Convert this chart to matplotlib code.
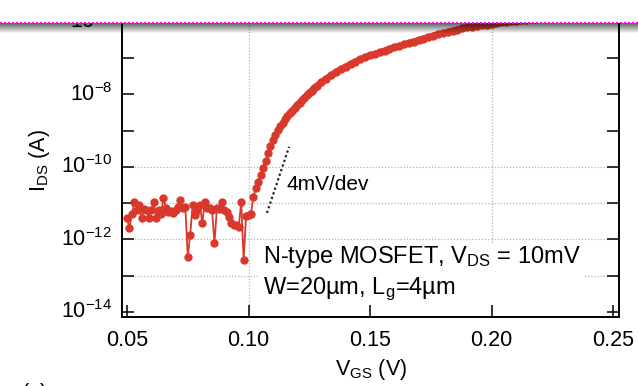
import numpy as np
import matplotlib.pyplot as plt
from matplotlib.ticker import FixedLocator, NullLocator, FuncFormatter

plt.rcParams['font.family'] = ['Liberation Sans', 'DejaVu Sans']
plt.rcParams['mathtext.fontset'] = 'custom'
plt.rcParams['mathtext.rm'] = 'Liberation Sans'
plt.rcParams['mathtext.it'] = 'Liberation Sans:italic'
plt.rcParams['mathtext.default'] = 'regular'

# gate sweep (mV) and log10 of drain current (A)
vgs_mv = [50, 51, 52, 53, 54, 55, 56, 57, 58, 59,
          60, 61, 62, 63, 64, 65, 66, 67, 68, 69,
          70, 71, 72, 73, 74, 75, 76, 77, 78, 79,
          80, 81, 82, 83, 84, 85, 86, 87, 88, 89,
          90, 91, 92, 93, 94, 95, 96, 97, 98, 99,
          100, 101, 102, 103, 104, 105, 106, 107, 108, 109,
          110, 111, 112, 113, 114, 115, 116, 117, 118, 119,
          120, 121, 122, 123, 124, 125, 126, 127, 128,
          130, 132, 134, 136, 138, 140, 142, 144, 146, 148,
          150, 152, 154, 156, 158, 160, 162, 164, 166, 168,
          170, 172, 174, 176, 178, 180, 182, 184, 186, 188,
          190, 192, 194, 196, 198, 200, 202, 204, 206, 208,
          210, 212, 214, 216, 218, 220, 222, 224, 226, 228, 230]
log_ids = [-11.42, -11.69, -11.30, -10.97, -11.19, -11.05, -11.41, -11.15, -11.19, -11.41,
           -11.19, -10.96, -11.41, -11.19, -11.30, -10.86, -11.13, -11.25, -11.22, -11.27,
           -11.19, -11.10, -10.91, -11.13, -11.10, -12.48, -11.88, -11.05, -11.33, -11.20,
           -11.05, -11.56, -10.96, -11.13, -11.13, -11.19, -12.11, -11.13, -11.15, -10.96,
           -11.19, -11.25, -11.37, -11.55, -11.60, -11.60, -11.65, -10.96, -12.57, -11.35,
           -11.33, -11.30, -10.82, -10.59, -10.41, -10.23, -10.02, -9.84, -9.63, -9.42,
           -9.25, -9.12, -8.99, -8.88, -8.78, -8.68, -8.60, -8.52, -8.45, -8.38,
           -8.31, -8.24, -8.17, -8.10, -8.03, -7.96, -7.90, -7.84, -7.78,
           -7.67, -7.57, -7.48, -7.39, -7.31, -7.24, -7.17, -7.10, -7.04, -6.98,
           -6.93, -6.89, -6.85, -6.80, -6.75, -6.71, -6.67, -6.63, -6.59, -6.55,
           -6.51, -6.47, -6.43, -6.39, -6.35, -6.32, -6.29, -6.25, -6.22, -6.19,
           -6.16, -6.14, -6.12, -6.10, -6.08, -6.06, -6.04, -6.02, -6.01, -5.99,
           -5.97, -5.96, -5.95, -5.94, -5.93, -5.91, -5.90, -5.89, -5.88, -5.87, -5.86]

# subthreshold slope guide
slope_v = [0.1076, 0.1167]
slope_log = [-11.27, -9.45]

x_ticks = [0.05, 0.10, 0.15, 0.20, 0.25]
x_ticklabels = ['0.05', '0.10', '0.15', '0.20', '0.25']
y_decades = list(range(-14, -4))
grid_x = [0.10, 0.20]
grid_y = [1e-10, 1e-11, 1e-12, 1e-13]

red = '#d8392c'
W, H = 638, 386

fig = plt.figure(figsize=(W / 100, H / 100), dpi=100)
fig.patch.set_facecolor('white')
ax = fig.add_axes([122 / W, 69 / H, 497 / W, 331.7 / H])

vgs = np.array(vgs_mv) / 1000.0
ids = 10.0 ** np.array(log_ids)

for g in grid_x:
    ax.axvline(g, color='#b5b5b5', ls=(0, (1, 1.5)), lw=0.9, zorder=1)
for g in grid_y:
    ax.axhline(g, color='#b5b5b5', ls=(0, (1, 1.5)), lw=0.9, zorder=1)

ax.plot(vgs, ids, '-o', color=red, ms=5, lw=1.3, mec=red, zorder=3)
# above ~0.12 V the markers merge into a solid band
dense = vgs >= 0.117
ax.plot(vgs[dense], ids[dense], '-', color=red, lw=4.6, solid_capstyle='round', zorder=3)
ax.plot(slope_v, 10.0 ** np.array(slope_log), color='#222222', ls=(0, (1, 1.2)), lw=1.6, zorder=2)

ax.set_yscale('log')
ax.set_xlim(0.05 - 5 / 2430, 0.25 + 6 / 2430)
ax.set_ylim(10 ** (-14 - 5 / 36.3), 1e-5)

ax.set_xticks(x_ticks)
ax.set_xticklabels(x_ticklabels)
ax.yaxis.set_major_locator(FixedLocator([10.0 ** d for d in y_decades]))
ax.yaxis.set_minor_locator(NullLocator())


def fmt(v, p):
    e = int(round(np.log10(v)))
    return r'$10^{%d}$' % e if e % 2 == 0 else ''


ax.yaxis.set_major_formatter(FuncFormatter(fmt))
ax.tick_params(direction='in', length=8.6, width=1.1, top=True, right=True,
               labelsize=15.5, colors='black')
ax.tick_params(axis='x', pad=9)
ax.tick_params(axis='y', pad=7)
for lab in ax.get_yticklabels():
    lab.set_va('center')
for s in ax.spines.values():
    s.set_linewidth(1.4)

ax.text(0.1158, 10 ** -10.5, '4mV/dev', fontsize=15, ha='left', va='center', zorder=4)
ax.text(0.106, 10 ** -12.93, 'N-type MOSFET, $V_{DS}$ = 10mV\nW=20\u00b5m, $L_g$=4\u00b5m',
        fontsize=17, ha='left', va='center', linespacing=1.3, zorder=4,
        bbox=dict(facecolor='white', edgecolor='none', pad=2))

fig.text(40 / W, 1 - 161 / H, '$I_{DS}$ (A)', rotation=90, ha='center', va='center', fontsize=15.5)
fig.text(371 / W, 1 - 369 / H, '$V_{GS}$ (V)', ha='center', va='center', fontsize=15.5)
fig.text(22 / W, 1 - 383 / H, '(a)', ha='left', va='top', fontsize=15.5)

# cropped screenshot edge: white strip, magenta dotted border, soft shadow
top = fig.add_axes([0, 1 - 34 / H, 1, 34 / H], zorder=10)
strip = np.zeros((34, 1, 4))
strip[:23] = [1, 1, 1, 1]
strip[23:, 0, 3] = np.linspace(0.6, 0.0, 11)
top.imshow(strip, extent=(0, W, 34, 0), aspect='auto', interpolation='bilinear')
top.axhline(23.3, color='#ff00ff', lw=1.6, ls=(0, (0.9, 0.9)))
top.set_xlim(0, W)
top.set_ylim(34, 0)
top.axis('off')

fig.savefig('out.png', dpi=100)
